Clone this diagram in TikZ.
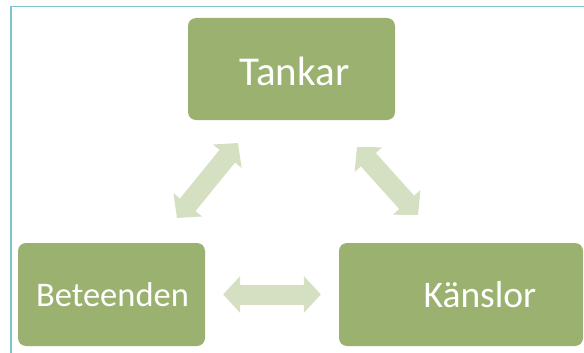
\documentclass[tikz,border=0pt]{standalone}
\usepackage{fontspec}
\setmainfont{Carlito}
\usetikzlibrary{arrows.meta}
\definecolor{boxc}{RGB}{155,177,112}
\definecolor{arrc}{RGB}{213,223,193}
\definecolor{framec}{RGB}{126,196,204}
\tikzset{
  box/.style={draw=none, fill=boxc, rounded corners=8pt, inner sep=0pt},
  boxtext/.style={text=white, inner sep=0pt},
  dbl/.style={arrc, line width=20pt, {Triangle[width=36pt,length=17pt]}-{Triangle[width=36pt,length=17pt]}},
}
\begin{document}
\begin{tikzpicture}[x=1pt,y=-1pt]
\useasboundingbox (0,0) rectangle (584,353);
\draw[framec, line width=1.5pt] (11,353) -- (11,6.5) -- (584,6.5);
\node[box, minimum width=207pt, minimum height=102pt] (tan) at (291.5,69) {};
\node[box, minimum width=187pt, minimum height=103pt] (bet) at (111.5,294.5) {};
\node[box, minimum width=244pt, minimum height=103pt] (kan) at (461,294.5) {};
\node[boxtext, font=\fontsize{41}{41}\selectfont] (tant) at (294.5,71.5) {Tankar};
\node[boxtext, font=\fontsize{34.5}{34.5}\selectfont] (bett) at (112.5,295) {Beteenden};
\node[boxtext, font=\fontsize{37.5}{37.5}\selectfont] (kant) at (480,295) {Känslor};
\coordinate (l1) at (177,218);
\coordinate (l2) at (238,143);
\coordinate (r1) at (357,147);
\coordinate (r2) at (418,215);
\draw[dbl] (l1) -- (l2);
\draw[dbl] (r1) -- (r2);
\draw[dbl, shorten <=18pt, shorten >=18pt] (bet.east) -- (kan.west);
\end{tikzpicture}
\end{document}
